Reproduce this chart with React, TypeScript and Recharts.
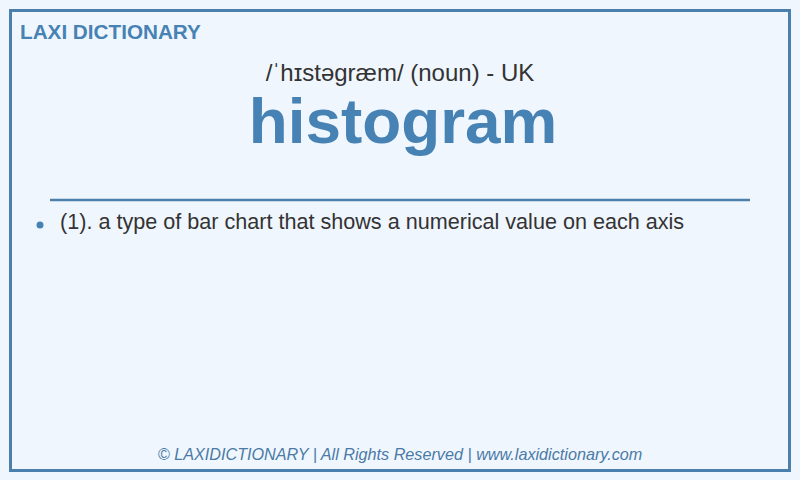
import React from "react";
import { Surface, Rectangle, Text, Dot } from "recharts";

const headerLines: string[] = ["LAXI DICTIONARY"];
const phoneticLines: string[] = ["/ˈhɪstəgræm/ (noun) - UK"];
const wordLines: string[] = ["histogram"];
const definitionLines: string[] = [
  "(1). a type of bar chart that shows a numerical value on each axis",
];
const footerLines: string[] = [
  "© LAXIDICTIONARY | All Rights Reserved | www.laxidictionary.com",
];

const W = 800;
const H = 480;
const FONT = "'Liberation Sans', Arial, Helvetica, sans-serif";
const BLUE = "#4682b4";
const BORDER = "#4a80ab";

export default function App() {
  return (
    <div style={{ position: "absolute", left: 0, top: 0, width: W, height: H }}>
      <Surface width={W} height={H} viewBox={{ x: 0, y: 0, width: W, height: H }}>
        <Rectangle x={0} y={0} width={W} height={H} fill="#f0f6fe" />
        <Rectangle
          x={10.5}
          y={10.5}
          width={779}
          height={460}
          fill="#f0f6fe"
          stroke={BORDER}
          strokeWidth={3}
        />
        {headerLines.map((t, i) => (
          <Text
            key={"h" + i}
            x={20}
            y={39}
            fontFamily={FONT}
            fontWeight="bold"
            fontSize={20.7}
            fill={BLUE}
          >
            {t}
          </Text>
        ))}
        {phoneticLines.map((t, i) => (
          <Text
            key={"p" + i}
            x={400}
            y={80.5}
            textAnchor="middle"
            fontFamily={FONT}
            fontSize={24}
            fill="#333333"
          >
            {t}
          </Text>
        ))}
        {wordLines.map((t, i) => (
          <Text
            key={"w" + i}
            x={403}
            y={143}
            textAnchor="middle"
            fontFamily={FONT}
            fontWeight="bold"
            fontSize={63.8}
            fill={BLUE}
          >
            {t}
          </Text>
        ))}
        <path d="M50,200 L750,200" stroke={BORDER} strokeWidth={2.5} />
        {definitionLines.map((t, i) => (
          <g key={"d" + i}>
            <Dot cx={40} cy={225 + i * 30} r={3.5} fill={BLUE} />
            <Text
              x={60}
              y={229 + i * 30}
              fontFamily={FONT}
              fontSize={21.6}
              fill="#333333"
            >
              {t}
            </Text>
          </g>
        ))}
        {footerLines.map((t, i) => (
          <Text
            key={"f" + i}
            x={400}
            y={460}
            textAnchor="middle"
            fontFamily={FONT}
            fontStyle="italic"
            fontSize={16.2}
            fill="#4a7aa6"
          >
            {t}
          </Text>
        ))}
      </Surface>
    </div>
  );
}
